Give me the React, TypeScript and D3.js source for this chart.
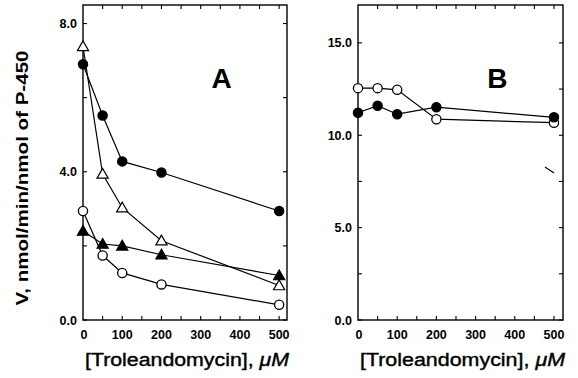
import React from "react";
import * as d3 from "d3";

// concentrations of troleandomycin (uM)
const conc = [0, 50, 100, 200, 500];

// panel A series
const aFilledCircle = [6.9, 5.52, 4.28, 3.98, 2.94];
const aOpenTriangle = [7.38, 3.94, 3.03, 2.14, 0.93];
const aFilledTriangle = [2.4, 2.05, 2.0, 1.76, 1.2];
const aOpenCircle = [2.94, 1.74, 1.27, 0.96, 0.41];

// panel B series
const bOpenCircle = [12.55, 12.55, 12.46, 10.87, 10.68];
const bFilledCircle = [11.22, 11.6, 11.14, 11.52, 10.97];

const xTickLabels = [0, 100, 200, 300, 400, 500];
const aYTickLabels = [0, 4, 8];
const bYTickLabels = [0, 5, 10, 15];

const W = 578;
const H = 378;
const top = 5;
const bottom = 320;
const font = "'Liberation Sans', Arial, Helvetica, sans-serif";

type Series = { values: number[]; shape: "circle" | "triangle"; filled: boolean };

const Marker = ({ x, y, shape, filled }) => {
  const fill = filled ? "#000" : "#fff";
  if (shape === "circle") {
    return <circle cx={x} cy={y} r={4.6} fill={fill} stroke="#000" strokeWidth={1.3} />;
  }
  const s = 5.6;
  const pts = `${x},${y - s} ${x - s},${y + s * 0.75} ${x + s},${y + s * 0.75}`;
  return <polygon points={pts} fill={fill} stroke="#000" strokeWidth={1.2} strokeLinejoin="miter" />;
};

const Panel = ({ x0, x1, yMax, yTicks, yMinor, series, letter, xMax }) => {
  const x = d3.scaleLinear().domain([0, xMax]).range([x0, x1]);
  const y = d3.scaleLinear().domain([0, yMax]).range([bottom, top]);
  const line = d3
    .line<number>()
    .x((_, i) => x(conc[i]))
    .y((d) => y(d));
  const xMinor = d3.range(50, xMax, 50);
  const tk = 4;

  return (
    <g>
      <rect x={x0} y={top} width={x1 - x0} height={bottom - top} fill="none" stroke="#000" strokeWidth={1.4} />
      {/* x ticks bottom & top */}
      {xMinor.map((t) => (
        <g key={`xt-${t}`}>
          <line x1={x(t)} x2={x(t)} y1={bottom} y2={bottom - tk} stroke="#000" strokeWidth={1.1} />
          <line x1={x(t)} x2={x(t)} y1={top} y2={top + tk} stroke="#000" strokeWidth={1.1} />
        </g>
      ))}
      {/* y ticks left & right */}
      {[...yTicks, ...yMinor].map((t) => (
        <g key={`yt-${t}`}>
          <line x1={x0} x2={x0 + tk} y1={y(t)} y2={y(t)} stroke="#000" strokeWidth={1.1} />
          <line x1={x1} x2={x1 - tk} y1={y(t)} y2={y(t)} stroke="#000" strokeWidth={1.1} />
        </g>
      ))}
      {xTickLabels.map((t) => (
        <text key={`xl-${t}`} x={x(t) + (t === 0 ? 1 : 0)} y={339} textAnchor="middle" fontSize={12.5} fontWeight="bold" fontFamily={font}>
          {t}
        </text>
      ))}
      {yTicks.map((t) => (
        <text key={`yl-${t}`} x={x0 - 6} y={y(t) + 4.5} textAnchor="end" fontSize={12.5} fontWeight="bold" fontFamily={font}>
          {t.toFixed(1)}
        </text>
      ))}
      {series.map((s: Series, k: number) => (
        <path key={`l-${k}`} d={line(s.values) || ""} fill="none" stroke="#000" strokeWidth={1.2} />
      ))}
      {series.map((s: Series, k: number) =>
        s.values.map((v, i) => (
          <Marker key={`m-${k}-${i}`} x={x(conc[i])} y={y(v)} shape={s.shape} filled={s.filled} />
        ))
      )}
      <text x={x0 + (x1 - x0) * 0.68} y={88} textAnchor="middle" fontSize={28} fontWeight="bold" fontFamily={font}>
        {letter}
      </text>
      <text
        x={x0 + 2}
        y={366}
        fontSize={18}
        fontFamily={font}
        stroke="#000"
        strokeWidth={0.4}
        textLength={x1 - x0}
        lengthAdjust="spacingAndGlyphs"
      >
        [Troleandomycin],{"  "}
        <tspan fontStyle="italic">μM</tspan>
      </text>
    </g>
  );
};

export default function App() {
  const seriesA: Series[] = [
    { values: aFilledCircle, shape: "circle", filled: true },
    { values: aOpenTriangle, shape: "triangle", filled: false },
    { values: aFilledTriangle, shape: "triangle", filled: true },
    { values: aOpenCircle, shape: "circle", filled: false },
  ];
  const seriesB: Series[] = [
    { values: bOpenCircle, shape: "circle", filled: false },
    { values: bFilledCircle, shape: "circle", filled: true },
  ];

  return (
    <svg
      width={W}
      height={H}
      style={{ position: "fixed", left: 0, top: 0, background: "#fff" }}
    >
      <rect width={W} height={H} fill="#fff" />
      <Panel x0={83} x1={287} xMax={520} yMax={8.5} yTicks={aYTickLabels} yMinor={[2, 6]} series={seriesA} letter="A" />
      <Panel x0={358} x1={563} xMax={523} yMax={17.05} yTicks={bYTickLabels} yMinor={[2.5, 7.5, 12.5]} series={seriesB} letter="B" />
      {/* stray scan mark in panel B */}
      <line x1={545} y1={167} x2={554} y2={173} stroke="#000" strokeWidth={1.2} />
      <text
        transform="translate(28,178) rotate(-90)"
        textAnchor="middle"
        fontSize={17}
        fontWeight="bold"
        fontFamily={font}
        textLength={255}
        lengthAdjust="spacingAndGlyphs"
      >
        V, nmol/min/nmol of P-450
      </text>
    </svg>
  );
}
